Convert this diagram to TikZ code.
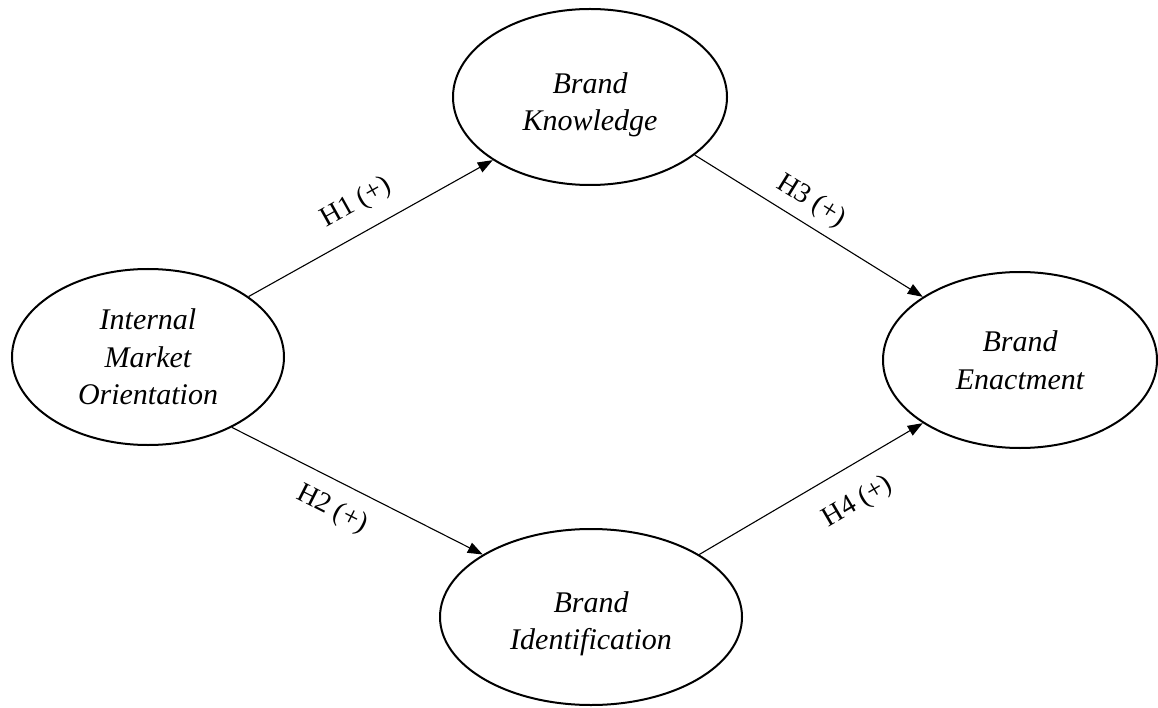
\documentclass[tikz,border=0pt]{standalone}
\usepackage{fontspec}
\setmainfont{Liberation Serif}
\usetikzlibrary{shapes.geometric,arrows.meta}
\begin{document}
\begin{tikzpicture}[x=1pt,y=-1pt,
  construct/.style={ellipse, draw, line width=2pt, inner sep=0pt, minimum height=176pt,
    align=center, font=\fontsize{30}{37.5}\selectfont\itshape},
  path/.style={line width=1.1pt, -{Triangle[length=15pt,width=11pt]}},
  hyp/.style={sloped, inner sep=0pt, font=\fontsize{28}{30}\selectfont}]
\useasboundingbox (0,0) rectangle (1158,708);
\node[construct, minimum width=272pt] (imo) at (148,357) {Internal\\Market\\Orientation};
\node[construct, minimum width=274pt] (bk) at (590,97) {\rule{0pt}{36pt}Brand\\Knowledge};
\node[construct, minimum width=274pt] (be) at (1020,360) {Brand\\Enactment};
\node[construct, minimum width=302pt] (bi) at (591,617) {\rule{0pt}{34pt}Brand\\Identification};
\draw[path] (imo.31) -- node[hyp, pos=0.5, above=16pt] (l1) {H1 (+)} (bk.213);
\draw[path] (imo.-40) -- node[hyp, pos=0.45, below=15pt] (l2) {H2 (+)} (bi.150);
\draw[path] (bk.-29) -- node[hyp, pos=0.46, above=9pt] (l3) {H3 (+)} (be.147);
\draw[path] (bi.30) -- node[hyp, pos=0.63, below=22pt] (l4) {H4 (+)} (be.213);
\end{tikzpicture}
\end{document}
